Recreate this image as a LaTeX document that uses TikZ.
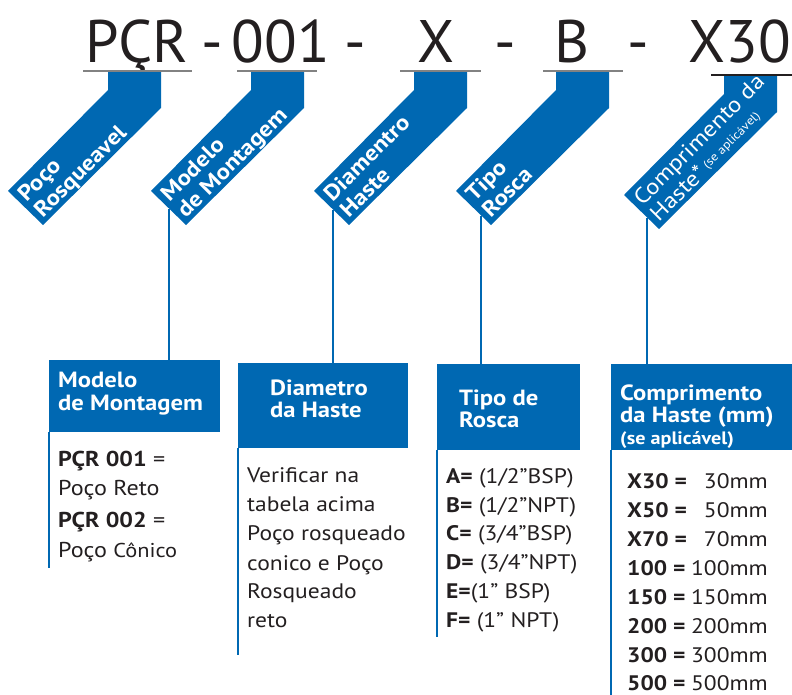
\documentclass[tikz,border=0pt]{standalone}
\usepackage{fontspec}
\setmainfont{PT Sans}[FakeStretch=1.12]
\newfontfamily\codefont{PT Sans}
\definecolor{azul}{RGB}{0,104,178}
\definecolor{tinta}{RGB}{35,31,32}
\definecolor{traco}{RGB}{130,130,130}
\newcommand\tam[1]{\fontsize{#1}{#1}\selectfont}

\begin{document}
\begin{tikzpicture}[x=1pt,y=-1pt,
  code/.style={anchor=base,text=tinta,inner sep=0pt,font=\codefont\tam{60}},
  ftxt/.style={anchor=base west,rotate=45,text=white,inner sep=0pt,font=\bfseries\tam{22}},
  cab/.style={fill=azul,inner sep=0pt,anchor=north west},
  htxt/.style={anchor=base west,text=white,inner sep=0pt,font=\bfseries\tam{22}},
  btxt/.style={anchor=base west,text=tinta,inner sep=0pt,font=\tam{21}},
  link/.style={draw=azul,line width=2pt},
  borda/.style={draw=azul,line width=1.3pt}]
\useasboundingbox (0,0) rectangle (792,695);

% codigo
\node[code] (pcr) at (137,63) {PÇR};
\node[code] (d1) at (212,63) {-};
\node[code] (mod) at (281,63) {001};
\node[code] (d2) at (355,63) {-};
\node[code] (dia) at (436,63) {X};
\node[code] (d3) at (505,63) {-};
\node[code] (ros) at (572,63) {B};
\node[code] (d4) at (638,63) {-};
\node[code] (comp) at (740,63) {X30};

% faixas
\fill[azul] (108,71) -- (161,71) -- (161,108) -- (43,225) -- (8,191) -- (108,90) -- cycle;
\fill[azul] (251,71) -- (304,71) -- (304,108) -- (186,225) -- (151,191) -- (251,90) -- cycle;
\fill[azul] (414,71) -- (467,71) -- (467,108) -- (349,225) -- (314,191) -- (414,90) -- cycle;
\fill[azul] (556,71) -- (609,71) -- (609,108) -- (491,225) -- (456,191) -- (556,90) -- cycle;
\fill[azul] (724,75) -- (777,75) -- (777,112) -- (659,229) -- (624,195) -- (724,94) -- cycle;

\draw[traco,line width=1.5pt] (83,71) -- (192,71);
\draw[traco,line width=1.5pt] (237,71) -- (317,71);
\draw[traco,line width=1.5pt] (400,71) -- (481,71);
\draw[traco,line width=1.5pt] (543,71) -- (623,71);
\draw[tinta,line width=1.5pt] (711,75) -- (792,75);

\node[ftxt] (f1a) at (26.5,202.5) {Poço};
\node[ftxt] (f1b) at (42.8,218.8) {Rosqueavel};
\node[ftxt] (f2a) at (169.5,202.5) {Modelo};
\node[ftxt] (f2b) at (185.8,218.8) {de Montagem};
\node[ftxt] (f3a) at (332.5,202.5) {Diamentro};
\node[ftxt] (f3b) at (348.8,218.8) {Haste};
\node[ftxt] (f4a) at (474.5,202.5) {Tipo};
\node[ftxt] (f4b) at (490.8,218.8) {Rosca};
\node[ftxt,font=\tam{22}] (f5a) at (642.5,206.5) {Comprimento da};
\node[ftxt,font=\tam{22}] (f5b) at (658.8,222.8) {Haste*\,\raisebox{3pt}{\tam{12}(se aplicável)}};

% quadros
\node[cab,minimum width=171pt,minimum height=72pt] (hmod) at (49,360) {};
\node[cab,minimum width=170pt,minimum height=85pt] (hdia) at (238,363) {};
\node[cab,minimum width=143pt,minimum height=86pt] (hros) at (437,364) {};
\node[cab,minimum width=181pt,minimum height=86pt] (hcomp) at (611,364) {};

\draw[borda] (hmod.south west) -- ++(0,136);
\draw[borda] (hdia.south west) -- ++(0,207);
\draw[borda] (hros.south west) -- ++(0,187);
\draw[borda] (hcomp.south west) -- ++(0,245);

\coordinate (e2) at (169,209);
\coordinate (e3) at (333,210);
\coordinate (e4) at (481,216);
\coordinate (e5) at (647,218);
\draw[link] (e2) -- (e2 |- hmod.north);
\draw[link] (e3) -- (e3 |- hdia.north);
\draw[link] (e4) -- (e4 |- hros.north);
\draw[link] (e5) -- (e5 |- hcomp.north);

\node[htxt] (t1a) at (58,387) {Modelo};
\node[htxt] (t1b) at (58,410) {de Montagem};
\node[htxt] (t2a) at (270,395) {Diametro};
\node[htxt] (t2b) at (270,417) {da Haste};
\node[htxt] (t3a) at (459,405) {Tipo de};
\node[htxt] (t3b) at (459,427) {Rosca};
\node[htxt] (t4a) at (620,400) {Comprimento};
\node[htxt] (t4b) at (620,422) {da Haste (mm)};
\node[htxt,font=\bfseries\tam{18}] (t4c) at (620,444) {(se aplicável)};

% modelo
\node[btxt,font=\tam{21.5}] (m1) at (58,466) {\textbf{PÇR 001} =};
\node[btxt,font=\tam{21.5}] (m2) at (58,495) {Poço Reto};
\node[btxt,font=\tam{21.5}] (m3) at (58,527) {\textbf{PÇR 002} =};
\node[btxt,font=\tam{21.5}] (m4) at (58,557) {Poço {\tam{20}Cônico}};

% diametro
\node[btxt] (v1) at (247,482) {Verificar na};
\node[btxt] (v2) at (247,511) {tabela acima};
\node[btxt] (v3) at (247,540) {Poço rosqueado};
\node[btxt] (v4) at (247,570) {conico e Poço};
\node[btxt] (v5) at (247,598) {Rosqueado};
\node[btxt] (v6) at (247,627) {reto};

% rosca
\node[btxt] (r1) at (446,483) {\textbf{A=} (1/2”BSP)};
\node[btxt] (r2) at (446,512) {\textbf{B=} (1/2”NPT)};
\node[btxt] (r3) at (446,540) {\textbf{C=} (3/4”BSP)};
\node[btxt] (r4) at (446,569) {\textbf{D=} (3/4”NPT)};
\node[btxt] (r5) at (446,598) {\textbf{E=}(1” BSP)};
\node[btxt] (r6) at (446,627) {\textbf{F=} (1” NPT)};

% comprimento
\node[btxt,font=\bfseries\tam{21}] (c1) at (627,488) {X30 =};
\node[btxt,font=\bfseries\tam{21}] (c2) at (627,517) {X50 =};
\node[btxt,font=\bfseries\tam{21}] (c3) at (627,546) {X70 =};
\node[btxt,font=\bfseries\tam{21}] (c4) at (627,575) {100 =};
\node[btxt,font=\bfseries\tam{21}] (c5) at (627,604) {150 =};
\node[btxt,font=\bfseries\tam{21}] (c6) at (627,633) {200 =};
\node[btxt,font=\bfseries\tam{21}] (c7) at (627,662) {300 =};
\node[btxt,font=\bfseries\tam{21}] (c8) at (627,690) {500 =};
\node[btxt,anchor=base east] (w1) at (768,488) {30mm};
\node[btxt,anchor=base east] (w2) at (768,517) {50mm};
\node[btxt,anchor=base east] (w3) at (768,546) {70mm};
\node[btxt,anchor=base east] (w4) at (768,575) {100mm};
\node[btxt,anchor=base east] (w5) at (768,604) {150mm};
\node[btxt,anchor=base east] (w6) at (768,633) {200mm};
\node[btxt,anchor=base east] (w7) at (768,662) {300mm};
\node[btxt,anchor=base east] (w8) at (768,690) {500mm};
\end{tikzpicture}
\end{document}
